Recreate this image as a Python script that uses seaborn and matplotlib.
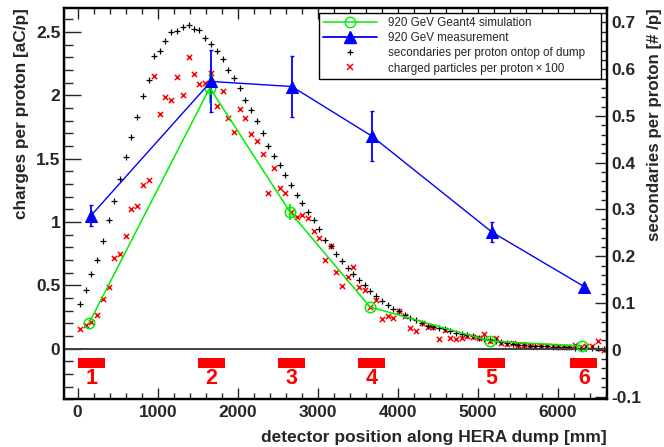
import matplotlib
matplotlib.use("Agg")
import matplotlib.pyplot as plt
from matplotlib.lines import Line2D
from matplotlib.patches import Rectangle
from matplotlib.ticker import MultipleLocator, FuncFormatter
import pandas as pd
import seaborn as sns

# --- 920 GeV measurement (charges per proton, aC/p) ---
meas_pos = [165, 1665, 2675, 3670, 5175, 6325]
meas_charge = [1.05, 2.11, 2.07, 1.68, 0.92, 0.49]
meas_err = [0.085, 0.245, 0.24, 0.20, 0.08, 0.02]

# --- 920 GeV Geant4 simulation (charges per proton, aC/p) ---
sim_pos = [140, 1650, 2650, 3650, 5150, 6300]
sim_charge = [0.20, 2.06, 1.08, 0.33, 0.06, 0.02]
sim_err = [0.0, 0.12, 0.065, 0.0, 0.0, 0.0]

# --- simulated profiles along the dump (per proton) ---
bin_pos = [30, 100, 171, 242, 312, 388, 459, 530, 600, 671,
           742, 817, 888, 959, 1025, 1096, 1171, 1242, 1313, 1384,
           1455, 1521, 1592, 1667, 1738, 1809, 1880, 1950, 2021, 2092,
           2163, 2238, 2309, 2380, 2450, 2521, 2592, 2663, 2734, 2804,
           2875, 2946, 3017, 3088, 3159, 3230, 3300, 3371, 3442, 3513,
           3584, 3655, 3730, 3800, 3871, 3942, 4013, 4084, 4155, 4230,
           4300, 4371, 4442, 4513, 4584, 4655, 4725, 4796, 4867, 4938,
           5009, 5080, 5150, 5221, 5292, 5363, 5434, 5505, 5575, 5646,
           5717, 5788, 5859, 5930, 6000, 6071, 6142, 6213, 6284, 6354,
           6425, 6496, 6567]

secondaries = [0.097, 0.128, 0.161, 0.192, 0.232, 0.277, 0.319, 0.365, 0.413, 0.456,
               0.498, 0.543, 0.576, 0.628, 0.639, 0.660, 0.679, 0.682, 0.690, 0.695,
               0.687, 0.685, 0.667, 0.655, 0.638, 0.621, 0.599, 0.582, 0.559, 0.535,
               0.512, 0.490, 0.464, 0.435, 0.415, 0.395, 0.373, 0.352, 0.331, 0.313,
               0.295, 0.277, 0.259, 0.235, 0.222, 0.205, 0.190, 0.175, 0.162, 0.149,
               0.139, 0.125, 0.115, 0.105, 0.095, 0.087, 0.083, 0.075, 0.067, 0.063,
               0.058, 0.051, 0.048, 0.047, 0.044, 0.041, 0.036, 0.034, 0.031, 0.029,
               0.025, 0.024, 0.021, 0.018, 0.016, 0.014, 0.013, 0.011, 0.010, 0.009,
               0.008, 0.008, 0.007, 0.006, 0.006, 0.005, 0.005, 0.004, 0.004, 0.004,
               0.003, 0.003, 0.002]

charged_x100 = [0.045, 0.053, 0.060, 0.075, 0.109, 0.134, 0.197, 0.205, 0.244, 0.301,
                0.307, 0.353, 0.363, 0.586, 0.505, 0.541, 0.535, 0.583, 0.544, 0.626,
                0.589, 0.568, 0.570, 0.592, 0.521, 0.553, 0.495, 0.465, 0.514, 0.496,
                0.461, 0.447, 0.419, 0.335, 0.389, 0.346, 0.335, 0.294, 0.283, 0.288,
                0.281, 0.254, 0.239, 0.191, 0.222, 0.167, 0.137, 0.156, 0.176, 0.134,
                0.127, 0.092, 0.107, 0.065, 0.073, 0.068, 0.083, 0.073, 0.046, 0.040,
                0.058, 0.049, 0.049, 0.024, 0.043, 0.026, 0.024, 0.026, 0.030, 0.028,
                0.025, 0.034, 0.019, 0.025, 0.014, 0.013, 0.015, 0.010, 0.011, 0.009,
                0.006, 0.008, 0.008, 0.008, 0.005, 0.006, 0.006, 0.010, 0.005, 0.008,
                0.008, 0.019, 0.000]

# --- detector stations along the dump ---
det_labels = ["1", "2", "3", "4", "5", "6"]
det_start = [0, 1500, 2500, 3500, 5000, 6150]
det_width = 340

legend_labels = ["920 GeV Geant4 simulation", "920 GeV measurement",
                 "secondaries per proton ontop of dump",
                 "charged particles per proton\u2009\u00d7\u2009100"]

GREEN = "#00ee00"
BLUE = "#0000ff"
RED = "#ff0000"

sns.set_style("ticks")
plt.rcParams["font.family"] = ["Liberation Sans", "DejaVu Sans"]
plt.rcParams["font.weight"] = "bold"

fig = plt.figure(figsize=(6.64, 4.47), dpi=100)
ax = fig.add_axes([0.0971, 0.1067, 0.8170, 0.8754])
ax2 = ax.twinx()

ax.set_xlim(-165, 6610)
ax.set_ylim(-0.40, 2.69)
ax2.set_ylim(-0.106, 0.731)

# simulated profiles on the right-hand axis
prof = pd.DataFrame({"pos": bin_pos, "sec": secondaries, "chg": charged_x100})
sns.scatterplot(data=prof, x="pos", y="chg", ax=ax2, marker="x", color=RED,
                s=14, linewidth=1.1, zorder=3, legend=False)
sns.scatterplot(data=prof, x="pos", y="sec", ax=ax2, marker="+", color="black",
                s=16, linewidth=0.9, zorder=4, legend=False)

# charge measurements on the left axis, drawn above the profiles
ax.set_zorder(ax2.get_zorder() + 1)
ax.patch.set_visible(False)

sim = pd.DataFrame({"pos": sim_pos, "q": sim_charge})
meas = pd.DataFrame({"pos": meas_pos, "q": meas_charge})

ax.errorbar(sim_pos, sim_charge, yerr=sim_err, fmt="none", ecolor=GREEN,
            elinewidth=1.3, capsize=0, zorder=3)
sns.lineplot(data=sim, x="pos", y="q", ax=ax, color=GREEN, linewidth=1.1,
             marker="o", markersize=7.5, markerfacecolor="none",
             markeredgecolor=GREEN, markeredgewidth=1.1, zorder=4, legend=False)

ax.errorbar(meas_pos, meas_charge, yerr=meas_err, fmt="none", ecolor=BLUE,
            elinewidth=1.3, capsize=1.5, capthick=1.0, zorder=3)
sns.lineplot(data=meas, x="pos", y="q", ax=ax, color=BLUE, linewidth=1.0,
             marker="^", markersize=8, markeredgecolor=BLUE, zorder=5, legend=False)

# zero line and detector stations
ax.axhline(0, color="0.25", linewidth=1.4, zorder=2)
for lab, x0 in zip(det_labels, det_start):
    ax.add_patch(Rectangle((x0, -0.152), det_width, 0.08, facecolor=RED,
                           edgecolor="none", zorder=2))
    ax.text(x0 + det_width / 2, -0.237, lab, color=RED, fontsize=15.5,
            fontweight="bold", ha="center", va="center")

# axes cosmetics
for a in (ax, ax2):
    for sp in a.spines.values():
        sp.set_linewidth(1.6)
        sp.set_color("black")

ax.xaxis.set_major_locator(MultipleLocator(1000))
ax.xaxis.set_minor_locator(MultipleLocator(200))
ax.yaxis.set_major_locator(MultipleLocator(0.5))
ax.yaxis.set_minor_locator(MultipleLocator(0.1))
ax2.yaxis.set_major_locator(MultipleLocator(0.1))
ax2.yaxis.set_minor_locator(MultipleLocator(0.02))

fmt = FuncFormatter(lambda v, p: f"{round(v, 3) + 0.0:g}")
ax.yaxis.set_major_formatter(fmt)
ax2.yaxis.set_major_formatter(fmt)
ax.xaxis.set_major_formatter(FuncFormatter(lambda v, p: f"{v:.0f}"))

ax.tick_params(axis="x", which="both", direction="in", top=True, bottom=True,
               labelsize=12.5, pad=4, width=1.0)
ax.tick_params(axis="x", which="major", length=8)
ax.tick_params(axis="x", which="minor", length=4.3)
ax.tick_params(axis="y", which="both", direction="in", left=True, right=False,
               labelsize=12.5, pad=3, width=1.0)
ax.tick_params(axis="y", which="major", length=12)
ax.tick_params(axis="y", which="minor", length=6.5)
ax2.tick_params(axis="y", which="both", direction="in", left=False, right=True,
                labelsize=12.5, pad=3, width=1.0)
ax2.tick_params(axis="y", which="major", length=8.6)
ax2.tick_params(axis="y", which="minor", length=4.3)
for lbl in ax.get_xticklabels() + ax.get_yticklabels() + ax2.get_yticklabels():
    lbl.set_fontweight("bold")

ax.set_xlabel("detector position along HERA dump [mm]", fontsize=12.5,
              fontweight="bold", loc="right", labelpad=7)
ax.set_ylabel("charges per proton [aC/p]", fontsize=12.4, fontweight="bold",
              loc="top", labelpad=5)
ax2.set_ylabel("secondaries per proton [# /p]", fontsize=12.2, fontweight="bold",
               loc="top", labelpad=4)

handles = [
    Line2D([], [], color=GREEN, lw=1.1, marker="o", markersize=7.5,
           markerfacecolor="none", markeredgecolor=GREEN),
    Line2D([], [], color=BLUE, lw=1.3, marker="^", markersize=8),
    Line2D([], [], color="black", lw=0, marker="+", markersize=4.5, markeredgewidth=0.9),
    Line2D([], [], color=RED, lw=0, marker="x", markersize=3.8, markeredgewidth=1.1),
]
leg = ax.legend(handles, legend_labels, loc="upper left",
                bbox_to_anchor=(0.469, 0.825, 0.52, 0.163), mode="expand",
                borderaxespad=0, fontsize=8.4, handlelength=4.6,
                handletextpad=1.0, labelspacing=0.28, borderpad=0.35,
                fancybox=False, framealpha=1, edgecolor="black",
                prop={"size": 8.4, "weight": "normal"})
leg.get_frame().set_linewidth(1.0)
leg.set_zorder(10)

fig.savefig("out.png", dpi=100)
